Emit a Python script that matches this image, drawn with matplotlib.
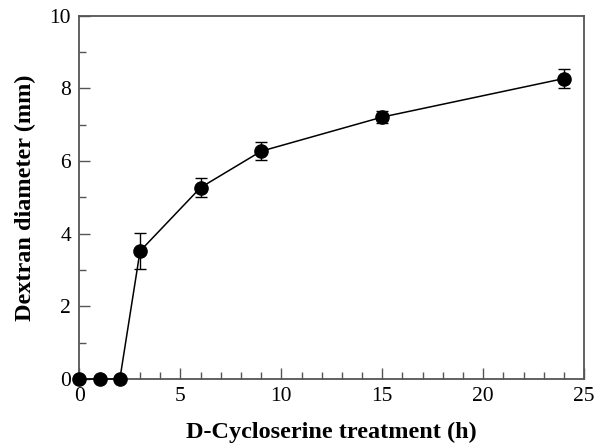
import matplotlib
matplotlib.use("Agg")
import matplotlib.pyplot as plt
from matplotlib.ticker import MultipleLocator

# D-cycloserine treatment time (h) vs dextran diameter (mm)
hours = [0, 1, 2, 3, 6, 9, 15, 24]
diameter = [0, 0, 0, 3.52, 5.27, 6.27, 7.21, 8.27]
err = [0, 0, 0, 0.5, 0.25, 0.25, 0.16, 0.25]

plt.rcParams["font.family"] = ["Liberation Serif", "DejaVu Serif"]

fig = plt.figure(figsize=(6.05, 4.45), dpi=100)
ax = fig.add_axes([0.1314, 0.1483, 0.834, 0.8164])

ax.errorbar(hours, diameter, yerr=err, fmt="o-", color="black", ms=9.5,
            lw=1.1, ecolor="black", elinewidth=1.0, capsize=4, capthick=1.0,
            clip_on=False, zorder=3)

ax.set_xlim(0, 25)
ax.set_ylim(0, 10)
ax.xaxis.set_major_locator(MultipleLocator(5))
ax.xaxis.set_minor_locator(MultipleLocator(1))
ax.yaxis.set_major_locator(MultipleLocator(2))
ax.yaxis.set_minor_locator(MultipleLocator(1))
ax.tick_params(which="both", direction="in", top=False, right=False,
               colors="#555555", labelcolor="black", labelsize=15.5, width=1.0)
ax.tick_params(which="major", length=8, pad=6)
ax.tick_params(which="minor", length=5)
for s in ax.spines.values():
    s.set_color("#555555")
    s.set_linewidth(1.3)

ax.set_xlabel("D-Cycloserine treatment (h)", fontsize=17.5, fontweight="bold", labelpad=11)
ax.set_ylabel("Dextran diameter (mm)", fontsize=17.5, fontweight="bold", labelpad=10)

fig.savefig("out.png", dpi=100)
